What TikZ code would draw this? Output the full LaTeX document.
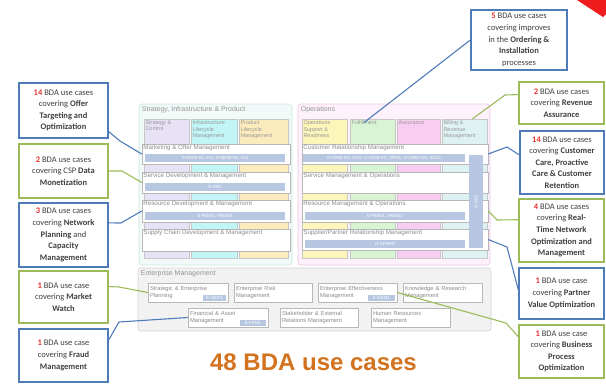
\documentclass[tikz,border=0pt]{standalone}
\usepackage{fontspec}
\usepackage{xcolor}
\usepackage{tikz}
\usetikzlibrary{shapes,arrows}
\newfontfamily\calfont{Carlito}
\newfontfamily\diagfont{Liberation Sans}
\definecolor{calblue}{HTML}{4F7BB8}
\definecolor{calgreen}{HTML}{9BBB59}
\definecolor{numred}{HTML}{E8302C}
\definecolor{bartint}{HTML}{B7C7E2}
\definecolor{sipfill}{HTML}{F1FAF8}
\definecolor{sipline}{HTML}{C8E6E2}
\definecolor{scfill}{HTML}{E8E2F6}
\definecolor{ilmfill}{HTML}{C2F5F5}
\definecolor{plmfill}{HTML}{FCEBBD}
\definecolor{opsfill}{HTML}{FDF1FB}
\definecolor{opsline}{HTML}{ECC6E6}
\definecolor{osrfill}{HTML}{FCF6BA}
\definecolor{fulfill}{HTML}{D8F4D2}
\definecolor{asrfill}{HTML}{F9CDF1}
\definecolor{bilfill}{HTML}{DFF2F3}
\definecolor{entfill}{HTML}{F2F2F2}
\definecolor{entline}{HTML}{D2D2D2}
\definecolor{titleorange}{HTML}{D4731F}
\definecolor{cornerred}{HTML}{EE1C1C}
\newcommand{\bdanum}[1]{\textbf{\color{numred}#1}}
\tikzstyle{callout} = [rectangle, draw, fill=white, line width=1.4pt, align=center, text=black!75, font=\calfont\fontsize{8.5}{11.6}\selectfont, inner sep=1pt]
\tikzstyle{bluecall} = [callout, draw=calblue]
\tikzstyle{greencall} = [callout, draw=calgreen]
\tikzstyle{panel} = [rectangle, rounded corners=3pt, draw, line width=0.6pt, inner sep=0pt]
\tikzstyle{column} = [rectangle, draw=black!22, line width=0.4pt, inner sep=0pt]
\tikzstyle{row} = [rectangle, draw=black!28, fill=white, line width=0.5pt, inner sep=0pt]
\tikzstyle{ebox} = [rectangle, draw=black!28, fill=white, line width=0.5pt, inner sep=2pt, align=left, text=black!45, font=\diagfont\fontsize{5.8}{7.4}\selectfont]
\tikzstyle{bar} = [rectangle, fill=bartint, text=white, font=\diagfont\fontsize{4.5}{5}\selectfont, inner sep=0pt]
\tikzstyle{paneltext} = [anchor=north west, inner sep=1pt, text=black!42, font=\diagfont\fontsize{7}{8}\selectfont]
\tikzstyle{rowtext} = [anchor=north west, inner sep=1.5pt, text=black!45, font=\diagfont\fontsize{6.2}{7}\selectfont]
\tikzstyle{coltext} = [anchor=north west, inner sep=1.5pt, align=left, text=black!40, font=\diagfont\fontsize{5.5}{6.6}\selectfont]
\tikzstyle{bluelink} = [draw=calblue, line width=1.1pt]
\tikzstyle{greenlink} = [draw=calgreen, line width=1.1pt]

\begin{document}
\begin{tikzpicture}[x=1pt,y=-1pt]
\useasboundingbox (0,0) rectangle (606,384);

% strategy, infrastructure & product
\node [panel, fill=sipfill, draw=sipline, minimum width=153pt, minimum height=161pt] (sip) at (215.5,184.5) {};
\node [paneltext] (siptitle) at ([xshift=2pt,yshift=-2pt]sip.north west) {Strategy, Infrastructure \& Product};
\node [column, fill=scfill, minimum width=45pt, minimum height=139pt] (sc) at (166.5,188.5) {};
\node [column, fill=ilmfill, minimum width=46pt, minimum height=139pt] (ilm) at (214,188.5) {};
\node [column, fill=plmfill, minimum width=49pt, minimum height=139pt] (plm) at (263.5,188.5) {};
\node [coltext] (sctxt) at (sc.north west) {Strategy \&\\Control};
\node [coltext] (ilmtxt) at (ilm.north west) {Infrastructure\\Lifecycle\\Management};
\node [coltext] (plmtxt) at (plm.north west) {Product\\Lifecycle\\Management};

\node [row, minimum width=148pt, minimum height=20pt] (mom) at (216,154) {};
\node [rowtext] (momtxt) at (mom.north west) {Marketing \& Offer Management};
\node [bar, minimum width=140pt, minimum height=8pt] (mombar) at (215,158) {S-MOM-01; \#11; S-MOM-02; \#14};
\node [row, minimum width=148pt, minimum height=21pt] (sdm) at (216,182.5) {};
\node [rowtext] (sdmtxt) at (sdm.north west) {Service Development \& Management};
\node [bar, minimum width=140pt, minimum height=8pt] (sdmbar) at (215,187) {S-DM1};
\node [row, minimum width=148pt, minimum height=22pt] (rdm) at (216,211) {};
\node [rowtext] (rdmtxt) at (rdm.north west) {Resource Development \& Management};
\node [bar, minimum width=140pt, minimum height=8pt] (rdmbar) at (215,216) {S-RDM2; \#RDM3};
\node [row, minimum width=148pt, minimum height=22pt] (scdm) at (216,240) {};
\node [rowtext] (scdmtxt) at (scdm.north west) {Supply Chain Development \& Management};

% operations
\node [panel, fill=opsfill, draw=opsline, minimum width=192pt, minimum height=161pt] (ops) at (394,184.5) {};
\node [paneltext] (opstitle) at ([xshift=2pt,yshift=-2pt]ops.north west) {Operations};
\node [column, fill=osrfill, minimum width=45pt, minimum height=139pt] (osr) at (324.5,188.5) {};
\node [column, fill=fulfill, minimum width=45pt, minimum height=139pt] (ful) at (372.5,188.5) {};
\node [column, fill=asrfill, minimum width=43pt, minimum height=139pt] (asr) at (418.5,188.5) {};
\node [column, fill=bilfill, minimum width=45pt, minimum height=139pt] (bil) at (464.5,188.5) {};
\node [coltext] (osrtxt) at (osr.north west) {Operations\\Support \&\\Readiness};
\node [coltext] (fultxt) at (ful.north west) {Fulfillment};
\node [coltext] (asrtxt) at (asr.north west) {Assurance};
\node [coltext] (biltxt) at (bil.north west) {Billing \&\\Revenue\\Management};

\node [row, minimum width=186pt, minimum height=20pt] (crm) at (395,154) {};
\node [rowtext] (crmtxt) at (crm.north west) {Customer Relationship Management};
\node [bar, minimum width=162pt, minimum height=8pt] (crmbar) at (384,158) {O-CRM-O1; \#CO; O-CRM-PC; \#PCE; O-CRM-OS; \#CS4};
\node [row, minimum width=186pt, minimum height=21pt] (smo) at (395,182.5) {};
\node [rowtext] (smotxt) at (smo.north west) {Service Management \& Operations};
\node [row, minimum width=186pt, minimum height=22pt] (rmo) at (395,211) {};
\node [rowtext] (rmotxt) at (rmo.north west) {Resource Management \& Operations};
\node [bar, minimum width=160pt, minimum height=8pt] (rmobar) at (385,216) {O-RMO1; \#RMO2};
\node [row, minimum width=186pt, minimum height=21pt] (sprm) at (395,239.5) {};
\node [rowtext] (sprmtxt) at (sprm.north west) {Supplier/Partner Relationship Management};
\node [bar, minimum width=160pt, minimum height=8pt] (sprmbar) at (385,244) {O-SPRM1};
\node [bar, minimum width=93pt, minimum height=14pt, rotate=90] (vbar) at (476,201.5) {O-AR1};

% enterprise management
\node [panel, fill=entfill, draw=entline, minimum width=353pt, minimum height=63pt] (ent) at (314.5,299.5) {};
\node [paneltext] (enttitle) at ([xshift=2pt,yshift=-2pt]ent.north west) {Enterprise Management};
\node [ebox, minimum width=80pt, minimum height=19pt, text width=76pt] (sep) at (188,292.5) {Strategic \& Enterprise\\Planning};
\node [ebox, minimum width=78pt, minimum height=19pt, text width=74pt] (erm) at (273,292.5) {Enterprise Risk\\Management};
\node [ebox, minimum width=79pt, minimum height=19pt, text width=75pt] (eem) at (357.5,292.5) {Enterprise Effectiveness\\Management};
\node [ebox, minimum width=79pt, minimum height=19pt, text width=75pt] (krm) at (442.5,292.5) {Knowledge \& Research\\Management};
\node [ebox, minimum width=80pt, minimum height=19pt, text width=76pt] (fam) at (228,317.5) {Financial \& Asset\\Management};
\node [ebox, minimum width=78pt, minimum height=19pt, text width=74pt] (serm) at (319,317.5) {Stakeholder \& External\\Relations Management};
\node [ebox, minimum width=79pt, minimum height=19pt, text width=75pt] (hrm) at (410.5,317.5) {Human Resources\\Management};
\node [bar, minimum width=23pt, minimum height=6pt] (sepbar) at (214.5,298) {E-SEP1};
\node [bar, minimum width=27pt, minimum height=6pt] (eembar) at (381.5,298) {E-EEM1};
\node [bar, minimum width=26pt, minimum height=6pt] (fambar) at (253,323) {E-FAM1};

\node [font=\diagfont\bfseries\fontsize{24}{28}\selectfont, text=titleorange] (total) at (313.5,362) {48 BDA use cases};

% callouts, left
\node [bluecall, minimum width=89pt, minimum height=55pt] (offer) at (63.5,110.5) {\bdanum{14} BDA use cases\\covering \textbf{Offer}\\\textbf{Targeting and}\\\textbf{Optimization}};
\node [greencall, minimum width=89pt, minimum height=54pt] (csp) at (63.5,171) {\bdanum{2} BDA use cases\\covering CSP \textbf{Data}\\\textbf{Monetization}};
\node [bluecall, minimum width=89pt, minimum height=64pt] (netplan) at (63.5,235) {\bdanum{3} BDA use cases\\covering \textbf{Network}\\\textbf{Planning} and\\\textbf{Capacity}\\\textbf{Management}};
\node [greencall, minimum width=89pt, minimum height=52pt] (market) at (63.5,297) {\bdanum{1} BDA use case\\covering \textbf{Market}\\\textbf{Watch}};
\node [bluecall, minimum width=89pt, minimum height=53pt] (fraud) at (63.5,355.5) {\bdanum{1} BDA use case\\covering \textbf{Fraud}\\\textbf{Management}};

% callouts, right
\node [bluecall, minimum width=96pt, minimum height=60pt] (ordering) at (519,40) {\bdanum{5} BDA use cases\\covering improves\\in the \textbf{Ordering \&}\\\textbf{Installation}\\processes};
\node [greencall, minimum width=85pt, minimum height=42pt] (revenue) at (561.5,103) {\bdanum{2} BDA use cases\\covering \textbf{Revenue}\\\textbf{Assurance}};
\node [bluecall, minimum width=84pt, minimum height=63pt] (care) at (562,162.5) {\bdanum{14} BDA use cases\\covering \textbf{Customer}\\\textbf{Care, Proactive}\\\textbf{Care \& Customer}\\\textbf{Retention}};
\node [greencall, minimum width=85pt, minimum height=63pt] (realtime) at (561.5,230.5) {\bdanum{4} BDA use cases\\covering \textbf{Real-}\\\textbf{Time Network}\\\textbf{Optimization and}\\\textbf{Management}};
\node [bluecall, minimum width=85pt, minimum height=51pt] (partner) at (561.5,293.5) {\bdanum{1} BDA use case\\covering \textbf{Partner}\\\textbf{Value Optimization}};
\node [greencall, minimum width=85pt, minimum height=53pt] (bizproc) at (561.5,351.5) {\bdanum{1} BDA use case\\covering \textbf{Business}\\\textbf{Process}\\\textbf{Optimization}};

\fill [cornerred] (577,0) -- (606,0) -- (606,14) -- (603,17) -- cycle;

% links
\path [bluelink] (offer.-25) -- (120,141) -- (mom.west);
\path [greenlink] (csp.east) -- (122,171) -- (sdm.west);
\path [bluelink] (netplan.15) -- (121,223) -- (rdm.west);
\path [greenlink] (market.13) -- (119,287) -- (sep.west);
\path [bluelink] (fraud.19) -- (119,322) -- (fam.west);
\path [bluelink] (ordering.west) -- (fultxt.center);
\path [greenlink] (revenue.169) -- (505,95) -- ([xshift=8pt]bil.north);
\path [bluelink] (care.170) -- (507,147) -- (crm.east);
\path [greenlink] (realtime.166) -- (497,220) -- (rmo.east);
\path [bluelink] (partner.175) -- (507,247) -- (sprm.east);
\path [greenlink] (bizproc.161) -- (506,323) -- (eem.east);
\end{tikzpicture}
\end{document}
